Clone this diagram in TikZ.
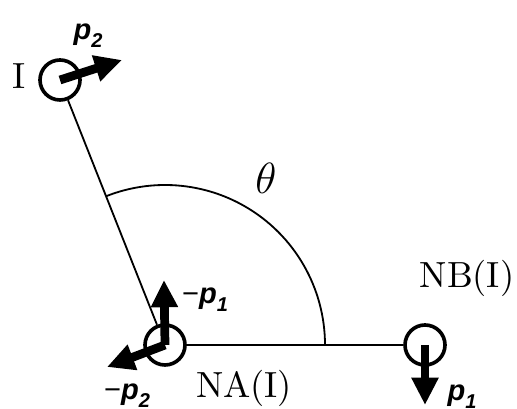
\documentclass[tikz,border=0pt]{standalone}
\usepackage{fontspec}
\newfontfamily\momfont{Liberation Sans}
\usetikzlibrary{arrows.meta,positioning}
\newcommand{\mom}[1]{{\momfont\bfseries\itshape p\raisebox{-0.5ex}{\fontsize{5.5}{5.5}\selectfont #1}}}

\begin{document}
\begin{tikzpicture}[x=0.275pt,y=0.275pt,
  atom/.style={draw,circle,line width=1pt,minimum size=11pt,inner sep=0pt},
  bond/.style={line width=0.5pt},
  mom/.style={line width=2.4pt,-{Triangle[length=7.5pt,width=7pt]}},
  momlab/.style={font=\footnotesize,inner sep=0pt}]
\useasboundingbox (0,0) rectangle (517,409);
% atoms
\node[atom] (I) at (60,329) {};
\node[atom] (NA) at (165,64) {};
\node[atom] (NB) at (425,64) {};
\node[inner sep=0pt] (Ilab) at (19,333) {I};
\node[inner sep=0pt] (NAlab) at (244,21) {NA(I)};
\node[inner sep=0pt] (NBlab) at (467,131) {NB(I)};
% bonds and angle
\draw[bond] (I) -- (NA);
\draw[bond] (NA) -- (NB);
\draw[bond] ([shift={(44pt,0pt)}]NA.center) arc[start angle=0,end angle=111.6,radius=44pt];
\node[inner sep=0pt] (theta) at (266,231) {\large$\theta$};
% momenta
\coordinate (p2tip) at (122,349);
\coordinate (mp2tip) at (107,42);
\coordinate (mp1tip) at (164,129);
\coordinate (p1tip) at (425,4);
\draw[mom] (I.center) -- (p2tip);
\draw[mom] (NA.center) -- (mp1tip);
\draw[mom] (NA.center) -- (mp2tip);
\draw[mom] (NB.center) -- (p1tip);
\node[momlab] (p2lab) at (88,373) {\mom{2}};
\node[momlab] (mp1lab) at (205,109) {{\momfont −}\mom{1}};
\node[momlab] (mp2lab) at (127,13) {{\momfont −}\mom{2}};
\node[momlab] (p1lab) at (462,12) {\mom{1}};
\end{tikzpicture}
\end{document}
